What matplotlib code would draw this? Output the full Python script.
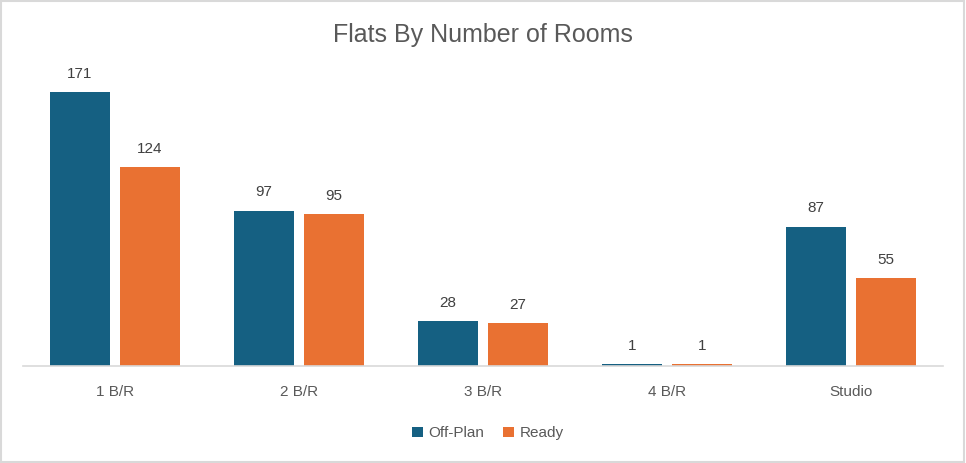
import matplotlib.pyplot as plt
import numpy as np

categories = ["1 B/R", "2 B/R", "3 B/R", "4 B/R", "Studio"]
off_plan = [171, 97, 28, 1, 87]
ready = [124, 95, 27, 1, 55]

blue = "#156082"
orange = "#E97132"
grey_text = "#595959"

plt.rcParams['font.family'] = ['Liberation Sans', 'DejaVu Sans']

fig = plt.figure(figsize=(9.66, 4.63), dpi=100)
ax = fig.add_axes([0.0238, 0.2095, 0.952, 0.623])

x = np.arange(len(categories))
w = 0.326
off = 0.19
b1 = ax.bar(x - off, off_plan, w, color=blue, label="Off-Plan")
b2 = ax.bar(x + off, ready, w, color=orange, label="Ready")

for bars, vals in ((b1, off_plan), (b2, ready)):
    for r, v in zip(bars, vals):
        ax.text(r.get_x() + r.get_width() / 2, v + 7, str(v), ha="center", va="bottom",
                fontsize=11, color="#404040")

ax.set_xlim(-0.5, len(categories) - 0.5)
ax.set_ylim(0, 180)
ax.set_xticks(x)
ax.set_xticklabels(categories, fontsize=11, color=grey_text)
ax.tick_params(axis="x", length=0, pad=14)
ax.set_yticks([])
for s in ["top", "right", "left"]:
    ax.spines[s].set_visible(False)
ax.spines["bottom"].set_color("#D9D9D9")
ax.spines["bottom"].set_linewidth(1.2)

fig.text(0.5, 0.925, "Flats By Number of Rooms", ha="center", va="center", fontsize=18, color=grey_text)

leg = fig.legend(loc="center", bbox_to_anchor=(0.505, 0.064), ncol=2, frameon=False,
                 fontsize=11, handlelength=0.7, handleheight=0.7, columnspacing=1.2, handletextpad=0.4)
for t in leg.get_texts():
    t.set_color(grey_text)

fig.patches.append(plt.Rectangle((0.001, 0.002), 0.997, 0.995, transform=fig.transFigure,
                                 fill=False, edgecolor="#D9D9D9", linewidth=1.5))

fig.savefig("out.png", dpi=100)
